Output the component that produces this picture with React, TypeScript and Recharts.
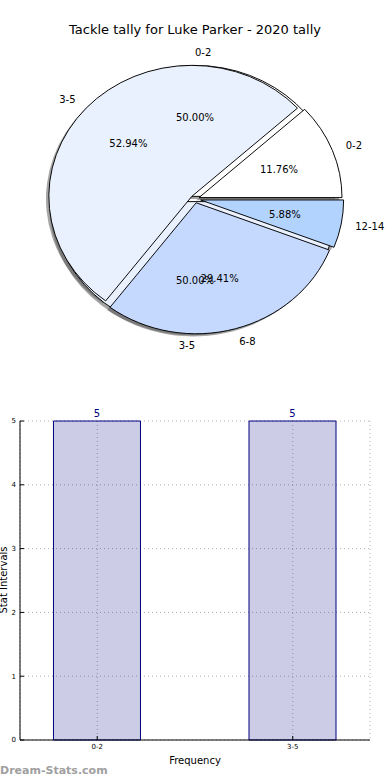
import React from 'react';
import { PieChart, Pie, Cell, Sector, BarChart, Bar, XAxis, YAxis, CartesianGrid, LabelList } from 'recharts';

// pie: tackle tally by stat interval
const tallyNames = ['0-2', '3-5', '6-8', '12-14'];
const tallyCounts = [2, 9, 5, 1];

// frequency of intervals (small pie + bar chart)
const freqNames = ['0-2', '3-5'];
const freqCounts = [5, 5];
const yTicks = [0, 1, 2, 3, 4, 5];

const FONT = '"DejaVu Sans", Verdana, sans-serif';
const CX = 195;
const CY = 199;
const RX = 143;
const RY = 131;
const RAD = Math.PI / 180;

const tallyColors = ['#ffffff', '#eaf1fe', '#c5d9fe', '#b3d3ff'];
const freqColors = ['#ffffff', '#eaf1fe'];
const tallyExplode = [0.03, 0.03, 0.03, 0.04];
const freqExplode = [0.02, 0.02];

const tallyData = tallyNames.map((name, i) => ({ name, value: tallyCounts[i] }));
const freqPieData = freqNames.map((name, i) => ({ name, value: freqCounts[i] }));
const freqData = freqNames.map((name, i) => ({ name, pos: i, count: freqCounts[i] }));

// exploded, elliptical wedge (matplotlib-ish); shadow=true draws the grey drop shadow
const makeShape = (names: string[], explode: number[], shadow: boolean) => (props: any) => {
  const { cx, cy, startAngle, endAngle, midAngle, outerRadius, fill } = props;
  const idx = names.indexOf(props.name ?? props.payload?.name);
  const e = explode[idx] ?? 0;
  let dx = Math.cos(midAngle * RAD) * e * RX;
  let dy = -Math.sin(midAngle * RAD) * e * RY;
  if (shadow) {
    dx -= 0.02 * RX;
    dy += 0.02 * RY;
  }
  const k = RY / RX;
  return (
    <g transform={`translate(${cx + dx} ${cy + dy}) scale(1 ${k}) translate(${-cx} ${-cy})`}>
      <Sector
        cx={cx}
        cy={cy}
        innerRadius={0}
        outerRadius={outerRadius}
        startAngle={startAngle}
        endAngle={endAngle}
        fill={shadow ? '#4d4d4d' : fill}
        fillOpacity={shadow ? 0.5 : 1}
        stroke={shadow ? 'none' : '#000'}
        strokeWidth={1}
      />
    </g>
  );
};

const makeLabel = (explode: number[]) => (props: any) => {
  const { cx, cy, midAngle, percent, name, index } = props;
  const c = Math.cos(midAngle * RAD);
  const s = Math.sin(midAngle * RAD);
  const e = explode[index] ?? 0;
  const ox = cx + e * RX * c;
  const oy = cy - e * RY * s;
  return (
    <g>
      <text
        x={ox + 1.1 * RX * c}
        y={oy - 1.1 * RY * s}
        textAnchor={c > 0 ? 'start' : 'end'}
        dominantBaseline="central"
        fontSize={10}
        fontFamily={FONT}
        fill="#000"
      >
        {name}
      </text>
      <text
        x={ox + 0.6 * RX * c}
        y={oy - 0.6 * RY * s}
        textAnchor="middle"
        dominantBaseline="central"
        fontSize={10}
        fontFamily={FONT}
        fill="#000"
      >
        {(percent * 100).toFixed(2)}%
      </text>
    </g>
  );
};

const noShape = () => <g />;

export default function App() {
  const pieCommon = {
    cx: CX,
    cy: CY,
    outerRadius: RX,
    startAngle: 0,
    endAngle: 360,
    dataKey: 'value',
    nameKey: 'name',
    labelLine: false,
    isAnimationActive: false,
  };

  return (
    <div style={{ position: 'absolute', left: 0, top: 0, width: 390, height: 780, background: '#fff', fontFamily: FONT, overflow: 'hidden' }}>
      <div style={{ position: 'absolute', top: 22, left: 0, width: 390, textAlign: 'center', fontSize: 13, lineHeight: '16px', color: '#000' }}>
        Tackle tally for Luke Parker - 2020 tally
      </div>

      <div style={{ position: 'absolute', top: 0, left: 0 }}>
        <PieChart width={390} height={380} margin={{ top: 0, right: 0, bottom: 0, left: 0 }}>
          {/* shadows */}
          <Pie {...pieCommon} data={freqPieData} label={false} shape={makeShape(freqNames, freqExplode, true)} />
          <Pie {...pieCommon} data={tallyData} label={false} shape={makeShape(tallyNames, tallyExplode, true)} />
          {/* wedges */}
          <Pie {...pieCommon} data={freqPieData} label={false} shape={makeShape(freqNames, freqExplode, false)}>
            {freqPieData.map((d, i) => (
              <Cell key={d.name} fill={freqColors[i]} />
            ))}
          </Pie>
          <Pie {...pieCommon} data={tallyData} label={false} shape={makeShape(tallyNames, tallyExplode, false)}>
            {tallyData.map((d, i) => (
              <Cell key={d.name} fill={tallyColors[i]} />
            ))}
          </Pie>
          {/* texts on top */}
          <Pie {...pieCommon} data={freqPieData} shape={noShape} label={makeLabel(freqExplode)} />
          <Pie {...pieCommon} data={tallyData} shape={noShape} label={makeLabel(tallyExplode)} />
        </PieChart>
      </div>

      <div style={{ position: 'absolute', top: 390, left: 0 }}>
        <BarChart width={390} height={390} data={freqData} margin={{ top: 31, right: 20, bottom: 10, left: 0 }}>
          <CartesianGrid stroke="#b0b0b0" strokeDasharray="1 3" />
          <XAxis
            type="number"
            dataKey="pos"
            domain={[-0.395, 1.395]}
            ticks={[0, 1]}
            allowDataOverflow
            tickFormatter={(v: number) => freqNames[v] ?? ''}
            height={30}
            tickSize={-4}
            tickMargin={8}
            axisLine={{ stroke: '#000' }}
            tickLine={{ stroke: '#000' }}
            tick={{ fontSize: 7, fill: '#000', fontFamily: FONT }}
          />
          <XAxis
            xAxisId="top"
            orientation="top"
            type="number"
            domain={[-0.395, 1.395]}
            ticks={[0, 1]}
            allowDataOverflow
            tickFormatter={() => ''}
            height={0}
            tickSize={-4}
            axisLine={{ stroke: '#000' }}
            tickLine={{ stroke: '#000' }}
          />
          <YAxis
            domain={[0, 5]}
            ticks={yTicks}
            width={20}
            tickSize={-4}
            tickMargin={8}
            axisLine={{ stroke: '#000' }}
            tickLine={{ stroke: '#000' }}
            tick={{ fontSize: 7, fill: '#000', fontFamily: FONT }}
          />
          <YAxis
            yAxisId="right"
            orientation="right"
            domain={[0, 5]}
            ticks={yTicks}
            width={0}
            tickSize={-4}
            tickFormatter={() => ''}
            axisLine={{ stroke: '#000' }}
            tickLine={{ stroke: '#000' }}
          />
          <Bar dataKey="count" fill="#000080" fillOpacity={0.2} stroke="#000080" strokeWidth={1} barSize={87} isAnimationActive={false}>
            <LabelList dataKey="count" position="top" offset={4} fill="#000080" fontSize={10} fontFamily={FONT} />
          </Bar>
        </BarChart>
      </div>

      <div style={{ position: 'absolute', left: 195, top: 760, transform: 'translate(-50%, -50%)', fontSize: 10, whiteSpace: 'nowrap' }}>
        Frequency
      </div>
      <div style={{ position: 'absolute', left: 3, top: 580, transform: 'translate(-50%, -50%) rotate(-90deg)', fontSize: 10, whiteSpace: 'nowrap' }}>
        Stat Intervals
      </div>
      <div style={{ position: 'absolute', left: 0, top: 770, transform: 'translateY(-50%)', fontSize: 11, fontWeight: 'bold', color: '#a0a0a0', whiteSpace: 'nowrap' }}>
        Dream-Stats.com
      </div>
    </div>
  );
}
